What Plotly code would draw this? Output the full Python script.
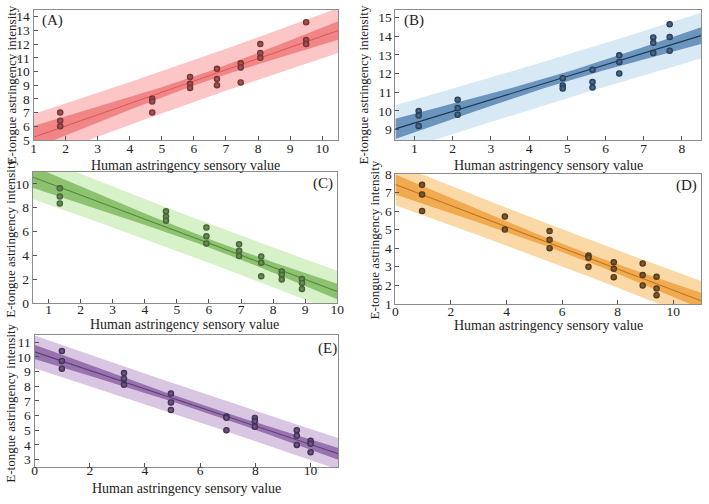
import numpy as np
import plotly.graph_objects as go

W, H = 709, 504

# ---------------- data ----------------
A_x = [1.83, 1.83, 1.83, 4.70, 4.70, 4.70, 5.88, 5.88, 5.88, 6.72, 6.72, 6.72,
       7.46, 7.46, 7.46, 8.07, 8.07, 8.07, 9.50, 9.50, 9.50]
A_y = [7.0, 6.4, 6.0, 8.0, 7.8, 7.0, 9.6, 9.1, 8.8, 10.2, 9.45, 9.0,
       10.6, 10.3, 9.2, 12.0, 11.35, 11.0, 13.6, 12.3, 12.0]

B_x = [1.11, 1.11, 1.11, 2.13, 2.13, 2.13, 4.88, 4.88, 4.88, 5.66, 5.66, 5.66,
       6.36, 6.36, 6.36, 7.25, 7.25, 7.25, 7.68, 7.68, 7.68]
B_y = [10.0, 9.75, 9.2, 10.6, 10.15, 9.8, 11.75, 11.36, 11.2, 12.2, 11.55, 11.25,
       12.97, 12.62, 12.0, 13.93, 13.64, 13.09, 14.64, 13.95, 13.22]

C_x = [1.35, 1.35, 1.35, 4.66, 4.66, 4.66, 5.92, 5.92, 5.92, 6.94, 6.94, 6.94,
       7.63, 7.63, 7.63, 8.27, 8.27, 8.27, 8.90, 8.90, 8.90]
C_y = [9.62, 8.93, 8.36, 7.7, 7.25, 6.9, 6.33, 5.6, 5.0, 4.92, 4.38, 3.94,
       3.89, 3.37, 2.23, 2.64, 2.36, 1.96, 2.0, 1.68, 1.17]

D_x = [0.96, 0.96, 0.96, 3.94, 3.94, 5.55, 5.55, 5.55, 6.95, 6.95, 6.95,
       7.86, 7.86, 7.86, 8.90, 8.90, 8.90, 9.40, 9.40, 9.40]
D_y = [7.41, 6.89, 6.0, 5.7, 5.0, 4.92, 4.45, 4.0, 3.6, 3.48, 3.0,
       3.24, 2.89, 2.44, 3.17, 2.55, 1.99, 2.46, 1.83, 1.47]

E_x = [0.99, 0.99, 0.99, 3.24, 3.24, 3.24, 4.94, 4.94, 4.94, 6.95, 6.95, 6.95,
       7.98, 7.98, 7.98, 9.50, 9.50, 9.50, 10.0, 10.0, 10.0]
E_y = [10.41, 9.73, 9.2, 8.9, 8.52, 8.1, 7.5, 6.9, 6.38, 5.94, 5.85, 5.0,
       5.83, 5.61, 5.24, 5.0, 4.62, 4.0, 4.28, 4.07, 3.5]

panel_labels = ["(A)", "(B)", "(C)", "(D)", "(E)"]
x_title = "Human astringency sensory value"
y_title = "E-tongue astringency intensity"

# two-sided 95 % Student t critical values by degrees of freedom
T95 = {18: 2.101, 19: 2.093}

# ---------------- styling / layout ----------------
FONT = "Liberation Serif"
panels = [
    dict(x=A_x, y=A_y, xr=[1, 10.5], yr=[5, 14.5], xd=1, yd=1,
         box=(31, 340, 3, 137), light="#fcc6c6", dark="rgba(238,112,112,0.75)",
         line="#e05858", pt="#6e2a2a", ptc="#b06060",
         lab=(50, 14), ytx=9, yty=80, xty=163, so=-4),
    dict(x=B_x, y=B_y, xr=[0.5, 8.5], yr=[8.45, 15.4], xd=1, yd=1,
         box=(398, 708, 3, 137), light="#d8e9f6", dark="rgba(88,134,178,0.85)",
         line="#1d3856", pt="#1c3350", ptc="#5a7896",
         lab=(417, 14), ytx=366, yty=80, xty=163, so=-4),
    dict(x=C_x, y=C_y, xr=[0.5, 10], yr=[0, 11], xd=1, yd=2,
         box=(30, 339, 170, 305), light="#d7f1c9", dark="rgba(128,186,98,0.85)",
         line="#568a3c", pt="#3a5a2c", ptc="#7a9a6a",
         lab=(325, 182), ytx=8, yty=238, xty=327, so=-6),
    dict(x=D_x, y=D_y, xr=[0, 11], yr=[1, 8], xd=2, yd=1,
         box=(398, 708, 172, 306), light="#fbd9a6", dark="rgba(240,164,70,0.9)",
         line="#c07820", pt="#4a2e10", ptc="#8a6a40",
         lab=(693, 184), ytx=377, yty=240, xty=328, so=-5),
    dict(x=E_x, y=E_y, xr=[0, 11], yr=[2.5, 11.5], xd=2, yd=1,
         box=(32, 340, 338, 474), light="#d9c6e3", dark="rgba(140,100,165,0.85)",
         line="#5e3f78", pt="#37264a", ptc="#7a6890",
         lab=(329, 352), ytx=8, yty=408, xty=496, so=-9),
]


def fx(px):
    return px / W


def fy(py):
    return 1 - py / H


fig = go.Figure()
layout = dict(
    width=W, height=H, margin=dict(l=0, r=0, t=0, b=0),
    paper_bgcolor="white", plot_bgcolor="white", showlegend=False,
    font=dict(family=FONT, size=14, color="#222"),
    annotations=[],
)

for i, p in enumerate(panels):
    k = "" if i == 0 else str(i + 1)
    xa, ya = "x" + k, "y" + k
    x = np.array(p["x"], dtype=float)
    y = np.array(p["y"], dtype=float)
    n = len(x)
    b, a = np.polyfit(x, y, 1)
    res = y - (a + b * x)
    s = np.sqrt(np.sum(res ** 2) / (n - 2))
    xbar = x.mean()
    sxx = np.sum((x - xbar) ** 2)
    t = T95[n - 2]
    xg = np.linspace(p["xr"][0], p["xr"][1], 80)
    yg = a + b * xg
    ci = t * s * np.sqrt(1 / n + (xg - xbar) ** 2 / sxx)
    pi = t * s * np.sqrt(1 + 1 / n + (xg - xbar) ** 2 / sxx)

    # prediction band (light)
    fig.add_trace(go.Scatter(
        x=np.concatenate([xg, xg[::-1]]), y=np.concatenate([yg + pi, (yg - pi)[::-1]]),
        fill="toself", fillcolor=p["light"], line=dict(width=0), mode="lines",
        hoverinfo="skip", xaxis=xa, yaxis=ya))
    # confidence band (dark)
    fig.add_trace(go.Scatter(
        x=np.concatenate([xg, xg[::-1]]), y=np.concatenate([yg + ci, (yg - ci)[::-1]]),
        fill="toself", fillcolor=p["dark"], line=dict(width=0), mode="lines",
        hoverinfo="skip", xaxis=xa, yaxis=ya))
    # fit line
    fig.add_trace(go.Scatter(x=xg, y=yg, mode="lines",
                             line=dict(color=p["line"], width=1.1),
                             xaxis=xa, yaxis=ya))
    # points
    fig.add_trace(go.Scatter(
        x=x, y=y, mode="markers",
        marker=dict(size=6.5, color=p["pt"], line=dict(width=0),
                    gradient=dict(type="radial", color=p["ptc"])),
        xaxis=xa, yaxis=ya))

    l, r, tp, bt = p["box"]
    common = dict(showline=True, linecolor="#8c8c8c", linewidth=1, mirror=True,
                  showgrid=False, zeroline=False, ticklen=4, tickcolor="#555",
                  ticks="inside",
                  tickfont=dict(family=FONT, size=13.5, color="#222"))
    layout["xaxis" + k] = dict(domain=[fx(l), fx(r)], anchor=ya, range=p["xr"],
                               dtick=p["xd"], ticklabelstandoff=p["so"], **common)
    layout["yaxis" + k] = dict(domain=[fy(bt), fy(tp)], anchor=xa, range=p["yr"],
                               dtick=p["yd"], **common)

    # axis titles and panel label
    layout["annotations"].append(dict(
        text=x_title, xref="paper", yref="paper", x=fx((l + r) / 2), y=fy(p["xty"]),
        xanchor="center", yanchor="middle", showarrow=False,
        font=dict(family=FONT, size=14, color="#222")))
    layout["annotations"].append(dict(
        text=y_title, xref="paper", yref="paper", x=fx(p["ytx"]), y=fy(p["yty"]),
        xanchor="center", yanchor="middle", textangle=-90, showarrow=False,
        font=dict(family=FONT, size=13, color="#222")))
    lx, ly = p["lab"]
    layout["annotations"].append(dict(
        text=panel_labels[i], xref="paper", yref="paper", x=fx(lx), y=fy(ly),
        xanchor="center", yanchor="middle", showarrow=False,
        font=dict(family=FONT, size=15, color="#222")))

fig.update_layout(**layout)
fig.write_html("out.html")
